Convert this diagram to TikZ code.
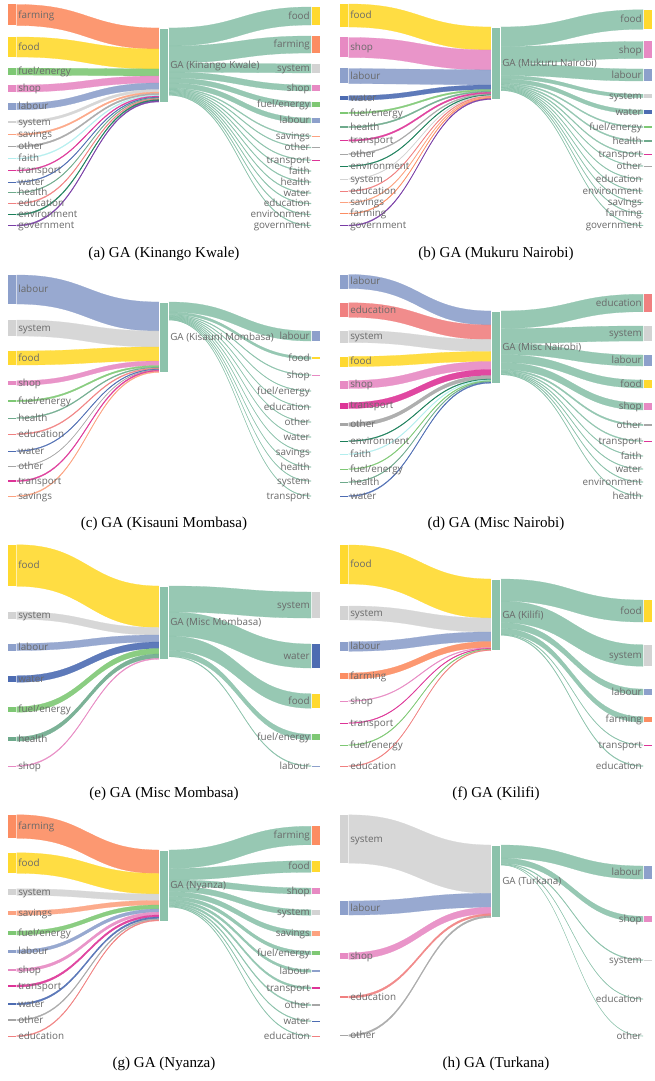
\documentclass[tikz,border=0pt]{standalone}
\usepackage{fontspec}
\setmainfont{Liberation Serif}
\newfontfamily\lblfont{Open Sans}
\usepackage{tikz}
\definecolor{cfarm}{RGB}{252,141,98}
\definecolor{cfood}{RGB}{255,217,47}
\definecolor{cfuel}{RGB}{126,200,116}
\definecolor{cshop}{RGB}{231,138,195}
\definecolor{clab}{RGB}{141,160,203}
\definecolor{csys}{RGB}{211,211,211}
\definecolor{csav}{RGB}{252,162,128}
\definecolor{coth}{RGB}{166,166,166}
\definecolor{cfaith}{RGB}{178,238,238}
\definecolor{ctrans}{RGB}{221,52,151}
\definecolor{cwater}{RGB}{77,108,178}
\definecolor{chealth}{RGB}{110,170,140}
\definecolor{cedu}{RGB}{240,128,128}
\definecolor{cenv}{RGB}{27,127,90}
\definecolor{cgov}{RGB}{120,60,165}
\definecolor{ga}{RGB}{140,194,171}
\definecolor{lbltext}{RGB}{105,105,105}

% one panel: id, shift, centre top, centre title, sources, targets, caption
\newcommand{\sankeypanel}[7]{%
  \begin{scope}[shift={#2}]
    % bands into the centre node
    \xdef\cpos{#3}
    \foreach \lab/\col/\ym/\h in {#5} {
      \pgfmathsetmacro{\yt}{\ym-\h/2}
      \pgfmathsetmacro{\yb}{\ym+\h/2}
      \pgfmathsetmacro{\cb}{\cpos+\h}
      \fill[band, fill=\col, draw=\col] (16.8,\yt) .. controls (88,\yt) and (88,\cpos) .. (159,\cpos)
        -- (159,\cb) .. controls (88,\cb) and (88,\yb) .. (16.8,\yb) -- cycle;
      \fill[fill=\col] (8,\yt) rectangle (16,\yb);
      \xdef\cpos{\cb}
    }
    \xdef\cend{\cpos}
    % bands out of the centre node
    \xdef\cpos{#3}
    \foreach \lab/\col/\ym/\h in {#6} {
      \pgfmathsetmacro{\yt}{\ym-\h/2}
      \pgfmathsetmacro{\yb}{\ym+\h/2}
      \pgfmathsetmacro{\cb}{\cpos+\h}
      \fill[band, fill=ga, draw=ga] (168.8,\cpos) .. controls (240,\cpos) and (240,\yt) .. (311,\yt)
        -- (311,\yb) .. controls (240,\yb) and (240,\cb) .. (168.8,\cb) -- cycle;
      \fill[fill=\col] (312,\yt) rectangle (320,\yb);
      \xdef\cpos{\cb}
    }
    \fill[fill=ga, draw=white, line width=.4pt] (159.2,#3) rectangle (168.6,\cend);
    % labels
    \foreach \lab/\col/\ym/\h [count=\i] in {#5}
      \node[lbl, anchor=base west] (#1l\i) at (18,\ym+3.2) {\lab};
    \foreach \lab/\col/\ym/\h [count=\i] in {#6}
      \node[lbl, anchor=base east] (#1r\i) at (310,\ym+3.2) {\lab};
    \node[lbl, anchor=base west] (#1c) at (170,{(#3+\cend)/2+3.2}) {#4};
    \node[captxt] (#1cap) at (164,254) {#7};
  \end{scope}
}

\begin{document}
\begin{tikzpicture}[
  x=0.75pt, y=-0.75pt,
  band/.style={line width=.2pt, opacity=.9},
  lbl/.style={inner sep=0pt, text=lbltext,
              font=\lblfont\fontsize{7.4}{8}\selectfont},
  captxt/.style={inner sep=0pt, font=\fontsize{11.3}{13}\selectfont}]
  \useasboundingbox (0,0) rectangle (654,1081);

  \sankeypanel{a}{(0,0)}{28}{GA (Kinango Kwale)}{
    {farming}/cfarm/15/21, {food}/cfood/47/20, {fuel/energy}/cfuel/71.5/7,
    {shop}/cshop/88.5/7, {labour}/clab/106.5/6.5, {system}/csys/122/2.5,
    {savings}/csav/134.5/1.5, {other}/coth/146.5/1.5, {faith}/cfaith/158.5/1,
    {transport}/ctrans/170.5/1, {water}/cwater/182/0.8, {health}/chealth/192.5/0.8,
    {education}/cedu/203.5/1, {environment}/cenv/214.5/1.2, {government}/cgov/225.5/1.2}{
    {food}/cfood/16/18, {farming}/cfarm/44.5/17, {system}/csys/68.5/9,
    {shop}/cshop/88/6, {fuel/energy}/cfuel/104.5/5, {labour}/clab/120.5/5,
    {savings}/csav/136/1, {other}/coth/147.5/0.8, {transport}/ctrans/160/0.8,
    {faith}/white/171/0.8, {health}/white/182/0.8, {water}/white/193/0.8,
    {education}/white/203.5/0.8, {environment}/white/214.5/0.8, {government}/white/225.5/0.8}
    {(a) GA (Kinango Kwale)}

  \sankeypanel{b}{(332,0)}{27}{GA (Mukuru Nairobi)}{
    {food}/cfood/15.5/23, {shop}/cshop/47.5/20, {labour}/clab/76/15,
    {water}/cwater/98/4.5, {fuel/energy}/cfuel/113/1.5, {health}/chealth/127/1.3,
    {transport}/ctrans/140.5/1.5, {other}/coth/154/1, {environment}/cenv/166/0.8,
    {system}/csys/179/0.6, {education}/cedu/191/0.8, {savings}/csav/202.5/0.8,
    {farming}/cfarm/213.5/0.8, {government}/cgov/225.5/1}{
    {food}/cfood/19.5/19.5, {shop}/cshop/50/17, {labour}/clab/75/12,
    {system}/csys/96/3.5, {water}/cwater/112/4, {fuel/energy}/cfuel/127/1.2,
    {health}/chealth/141/1.2, {transport}/ctrans/154/1, {other}/coth/166/0.7,
    {education}/white/179/0.7, {environment}/white/191/0.7, {savings}/white/202.5/0.7,
    {farming}/white/213.5/0.7, {government}/white/225.5/0.7}
    {(b) GA (Mukuru Nairobi)}

  \sankeypanel{c}{(0,270)}{32}{GA (Kisauni Mombasa)}{
    {labour}/clab/19.5/29, {system}/csys/58/16, {food}/cfood/88/14,
    {shop}/cshop/113/4.5, {fuel/energy}/cfuel/131/1.5, {health}/chealth/148/1,
    {education}/cedu/164/1, {water}/cwater/181/0.8, {other}/coth/196/0.5,
    {transport}/ctrans/211/1.2, {savings}/csav/226/1}{
    {labour}/clab/66/10, {food}/cfood/88/2.5, {shop}/cshop/105/0.8,
    {fuel/energy}/white/121/0.6, {education}/white/137/0.6, {other}/white/152/0.6,
    {water}/white/167/0.6, {savings}/white/182/0.6, {health}/white/197/0.6,
    {system}/white/211/0.6, {transport}/white/226/0.6}
    {(c) GA (Kisauni Mombasa)}

  \sankeypanel{d}{(332,270)}{41}{GA (Misc Nairobi)}{
    {labour}/clab/11.5/14, {education}/cedu/40/14.5, {system}/csys/66.5/12,
    {food}/cfood/91.5/10, {shop}/cshop/114.5/8, {transport}/ctrans/135.5/6,
    {other}/coth/154.5/3.5, {environment}/cenv/171/0.8, {faith}/cfaith/184/0.8,
    {fuel/energy}/cfuel/199/0.8, {health}/chealth/212/0.8, {water}/cwater/226/1}{
    {education}/cedu/33/17.5, {system}/csys/63.5/15, {labour}/clab/90.5/11,
    {food}/cfood/114/8, {shop}/cshop/136.5/7, {other}/coth/155/1.5,
    {transport}/ctrans/171/1, {faith}/white/186/0.7, {water}/white/199/0.7,
    {environment}/white/212/0.7, {health}/white/226/0.7}
    {(d) GA (Misc Nairobi)}

  \sankeypanel{e}{(0,540)}{46}{GA (Misc Mombasa)}{
    {food}/cfood/25.5/41.5, {system}/csys/75.5/7.5, {labour}/clab/107/7,
    {water}/cwater/139/6.5, {fuel/energy}/cfuel/169.5/5.5, {health}/chealth/199/4.3,
    {shop}/cshop/226/1}{
    {system}/csys/65/26, {water}/cwater/116/24, {food}/cfood/161/14.5,
    {fuel/energy}/cfuel/197/5.5, {labour}/clab/226/0.8}
    {(e) GA (Misc Mombasa)}

  \sankeypanel{f}{(332,540)}{39}{GA (Kilifi)}{
    {food}/cfood/24.5/39, {system}/csys/73/14, {labour}/clab/106.5/9.5,
    {farming}/cfarm/136/6, {shop}/cshop/161/0.8, {transport}/ctrans/183/0.7,
    {fuel/energy}/cfuel/205/0.8, {education}/cedu/226/0.8}{
    {food}/cfood/71/22, {system}/csys/115.5/21.5, {labour}/clab/152/6,
    {farming}/cfarm/179.5/5.5, {transport}/ctrans/205/0.6, {education}/white/226/0.8}
    {(f) GA (Kilifi)}

  \sankeypanel{g}{(0,810)}{40}{GA (Nyanza)}{
    {farming}/cfarm/16.5/23.5, {food}/cfood/53/20.5, {system}/csys/82/6.5,
    {savings}/csav/103/4.5, {fuel/energy}/cfuel/123/4, {labour}/clab/141.5/3.2,
    {shop}/cshop/160/2.8, {transport}/ctrans/176/2, {water}/cwater/194/1.7,
    {other}/coth/210/1.2, {education}/cedu/226/1}{
    {farming}/cfarm/25.5/18.5, {food}/cfood/56.5/11.5, {shop}/cshop/81/6,
    {system}/csys/102.5/5.5, {savings}/csav/123.5/5, {fuel/energy}/cfuel/143/3.5,
    {labour}/clab/161/2.5, {transport}/ctrans/178/2, {other}/coth/195/1.2,
    {water}/cwater/211/0.8, {education}/cedu/226/0.7}
    {(g) GA (Nyanza)}

  \sankeypanel{h}{(332,810)}{35}{GA (Turkana)}{
    {system}/csys/29/48.3, {labour}/clab/98/14, {shop}/cshop/146/6.5,
    {education}/cedu/187/2, {other}/coth/225.5/1.7}{
    {labour}/clab/62.5/13, {shop}/cshop/109/5.5, {system}/csys/150/0.8,
    {education}/white/189/0.5, {other}/white/226/0.3}
    {(h) GA (Turkana)}
\end{tikzpicture}
\end{document}
